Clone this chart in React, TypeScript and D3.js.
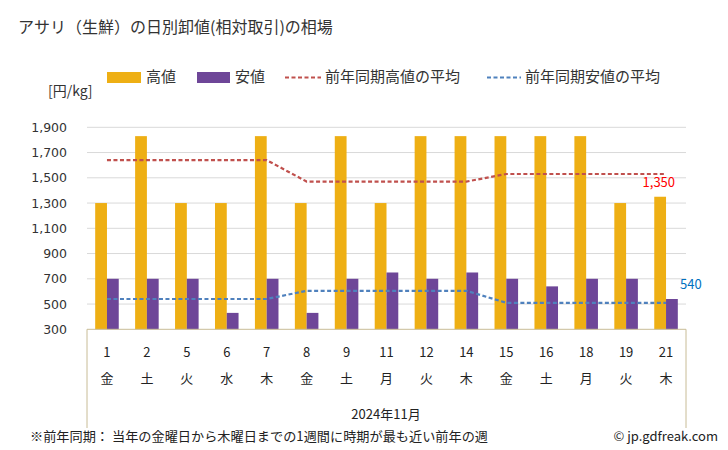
import React from "react";
import * as d3 from "d3";

const dates = ["1", "2", "5", "6", "7", "8", "9", "11", "12", "14", "15", "16", "18", "19", "21"];
const weekdays = ["金", "土", "火", "水", "木", "金", "土", "月", "火", "木", "金", "土", "月", "火", "木"];
const highValues = [1300, 1830, 1300, 1300, 1830, 1300, 1830, 1300, 1830, 1830, 1830, 1830, 1830, 1300, 1350];
const lowValues = [700, 700, 700, 430, 700, 430, 700, 750, 700, 750, 700, 640, 700, 700, 540];
const prevHighAvg = [1640, 1640, 1640, 1640, 1640, 1470, 1470, 1470, 1470, 1470, 1530, 1530, 1530, 1530, 1530];
const prevLowAvg = [540, 540, 540, 540, 540, 605, 605, 605, 605, 605, 510, 510, 510, 510, 510];
const yTicks = [300, 500, 700, 900, 1100, 1300, 1500, 1700, 1900];

const title = "アサリ（生鮮）の日別卸値(相対取引)の相場";
const unitLabel = "[円/kg]";
const legendLabels = ["高値", "安値", "前年同期高値の平均", "前年同期安値の平均"];
const monthLabel = "2024年11月";
const footnote = "※前年同期： 当年の金曜日から木曜日までの1週間に時期が最も近い前年の週";
const credit = "© jp.gdfreak.com";

const W = 728;
const H = 450;
const left = 87;
const right = 686;
const top = 127.3;
const bottom = 329.3;

const C_HIGH = "#EEAF14";
const C_LOW = "#6E4698";
const C_RED = "#C0504D";
const C_BLUE = "#4F81BD";
const JP = "'Noto Sans CJK JP', 'Noto Sans', sans-serif";

export default function App() {
  const x = d3
    .scaleBand<number>()
    .domain(dates.map((_, i) => i))
    .range([left, right])
    .padding(0);
  const y = d3.scaleLinear().domain([300, 1900]).range([bottom, top]);
  const step = x.step();
  const barW = step * 0.295;
  const cx = (i: number) => (x(i) as number) + step / 2;

  const line = d3
    .line<number>()
    .x((_, i) => cx(i))
    .y((d) => y(d));

  const last = dates.length - 1;

  return (
    <svg
      width={W}
      height={H}
      style={{ position: "absolute", left: 0, top: 0, background: "#fff" }}
      fontFamily={JP}
    >
      <text x={18} y={33} fontSize={16} fill="#333">
        {title}
      </text>

      {/* legend */}
      <rect x={107} y={72} width={34} height={11} fill={C_HIGH} />
      <text x={146} y={82} fontSize={15} fill="#333">
        {legendLabels[0]}
      </text>
      <rect x={197} y={72} width={33} height={11} fill={C_LOW} />
      <text x={235} y={82} fontSize={15} fill="#333">
        {legendLabels[1]}
      </text>
      <line x1={285} x2={321} y1={77.5} y2={77.5} stroke={C_RED} strokeWidth={2} strokeDasharray="4,2.5" />
      <text x={325} y={82} fontSize={15} fill="#333">
        {legendLabels[2]}
      </text>
      <line x1={487} x2={521} y1={77.5} y2={77.5} stroke={C_BLUE} strokeWidth={2} strokeDasharray="4,2.5" />
      <text x={525} y={82} fontSize={15} fill="#333">
        {legendLabels[3]}
      </text>

      <text x={48} y={96} fontSize={14} fill="#333">
        {unitLabel}
      </text>

      {/* grid */}
      {yTicks.map((t) => (
        <g key={t}>
          {t !== 300 && (
            <line x1={left} x2={right} y1={y(t)} y2={y(t)} stroke="#d9d9d9" strokeWidth={1} />
          )}
          <text
            x={67}
            y={y(t)}
            dy="0.36em"
            textAnchor="end"
            fontSize={12.5}
            fontFamily="'DejaVu Sans', Verdana, sans-serif"
            fill="#333"
          >
            {d3.format(",")(t)}
          </text>
        </g>
      ))}

      {/* bars */}
      {highValues.map((v, i) => (
        <rect key={"h" + i} x={cx(i) - barW} y={y(v)} width={barW} height={bottom - y(v)} fill={C_HIGH} />
      ))}
      {lowValues.map((v, i) => (
        <rect key={"l" + i} x={cx(i)} y={y(v)} width={barW} height={bottom - y(v)} fill={C_LOW} />
      ))}

      {/* avg lines */}
      <path d={line(prevHighAvg) || ""} fill="none" stroke={C_RED} strokeWidth={2.2} strokeDasharray="4,2.5" />
      <path d={line(prevLowAvg) || ""} fill="none" stroke={C_BLUE} strokeWidth={2.2} strokeDasharray="4,2.5" />

      {/* axis frame */}
      <line x1={left} x2={right} y1={bottom} y2={bottom} stroke="#c8bc96" strokeWidth={1} />
      <line x1={left} x2={left} y1={bottom} y2={428} stroke="#c8bc96" strokeWidth={1} />
      <line x1={right} x2={right} y1={bottom} y2={428} stroke="#c8bc96" strokeWidth={1} />

      {/* value labels */}
      <text x={cx(last) + 9} y={y(highValues[last]) - 10} textAnchor="end" fontSize={13} fill="#ff0000">
        {d3.format(",")(highValues[last])}
      </text>
      <text x={right - 6} y={y(lowValues[last]) - 10} fontSize={13} fill="#0070c0">
        {d3.format(",")(lowValues[last])}
      </text>

      {/* x labels */}
      {dates.map((d, i) => (
        <g key={"x" + i}>
          <text x={cx(i)} y={352} dy="0.36em" textAnchor="middle" fontSize={13} fill="#222">
            {d}
          </text>
          <text x={cx(i)} y={378} dy="0.36em" textAnchor="middle" fontSize={13} fill="#222">
            {weekdays[i]}
          </text>
        </g>
      ))}
      <text x={386} y={414} dy="0.36em" textAnchor="middle" fontSize={13} fill="#222">
        {monthLabel}
      </text>

      <text x={30} y={436} dy="0.36em" fontSize={13} fill="#222" textLength={458} lengthAdjust="spacingAndGlyphs">
        {footnote}
      </text>
      <text x={718} y={436} dy="0.36em" textAnchor="end" fontSize={13} fill="#222">
        {credit}
      </text>
    </svg>
  );
}
